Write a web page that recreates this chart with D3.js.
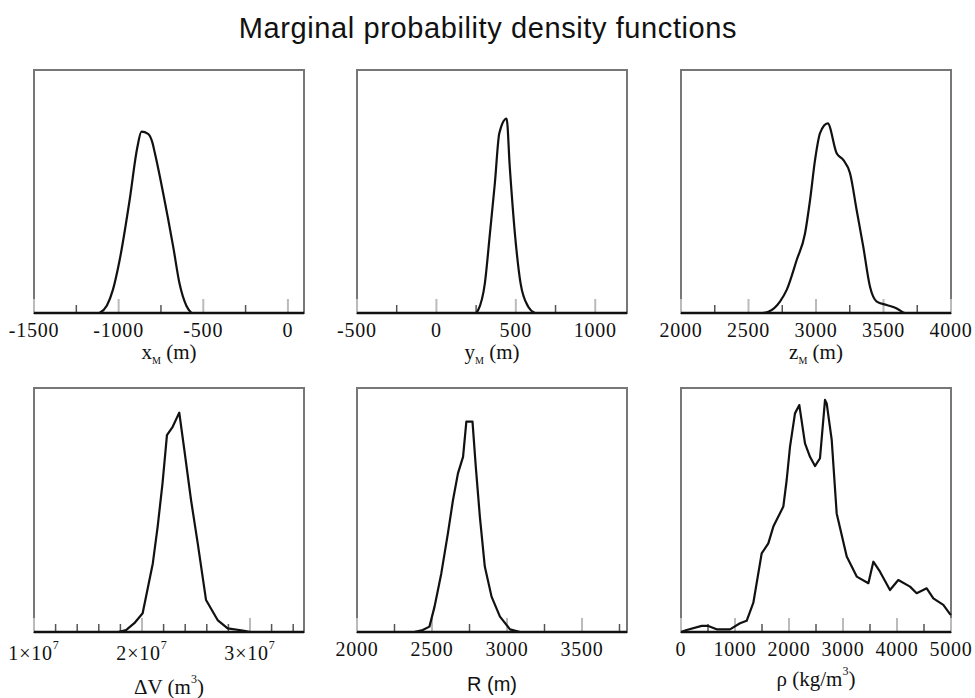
<!DOCTYPE html>
<html lang="en">
<head>
  <meta charset="UTF-8">
  <title>Marginal probability density functions</title>
  <style>
    body { margin: 0; background: #fff; }
    .tick-label { font-family: "Liberation Serif", "Times New Roman", serif; font-size: 20px; letter-spacing: 0.8px; fill: #111; }
    .axis-title { font-family: "Liberation Serif", "Times New Roman", serif; font-size: 21px; fill: #111; }
    .axis-title.sans { font-family: "Liberation Sans", Arial, sans-serif; font-size: 20px; }
    .title { font-family: "Liberation Sans", Arial, sans-serif; font-size: 29px; letter-spacing: 0.6px; fill: #111; }
  </style>
  <script src="https://d3js.org/d3.v7.min.js"></script>
</head>
<body>
  <svg id="chart"></svg>
  <script>
    // densities are relative (fraction of panel height), the y axis carries no scale
    const xmValues = [-1113, -1070, -1034, -994, -935, -890, -865, -826, -800, -786, -736, -677, -640, -600, -570];
    const xmDensity = [0, 0.03, 0.095, 0.218, 0.465, 0.68, 0.746, 0.737, 0.70, 0.658, 0.49, 0.27, 0.12, 0.03, 0];

    const ymValues = [250, 263, 305, 337, 368, 396, 442, 462, 494, 530, 578, 620];
    const ymDensity = [0, 0.012, 0.122, 0.328, 0.534, 0.74, 0.80, 0.60, 0.328, 0.122, 0.026, 0];

    const zmValues = [2600, 2647, 2733, 2783, 2857, 2919, 2956, 2993, 3030, 3087, 3153, 3202, 3252, 3301, 3350, 3400, 3450, 3524, 3598, 3659, 3700];
    const zmDensity = [0, 0.005, 0.047, 0.095, 0.218, 0.328, 0.465, 0.63, 0.74, 0.78, 0.657, 0.63, 0.575, 0.424, 0.273, 0.108, 0.047, 0.033, 0.019, 0, 0];

    const dvValues = [1.78e7, 1.852e7, 1.929e7, 2.006e7, 2.10e7, 2.145e7, 2.19e7, 2.231e7, 2.284e7, 2.345e7, 2.392e7, 2.454e7, 2.516e7, 2.593e7, 2.70e7, 2.793e7, 2.947e7, 3.0e7];
    const dvDensity = [0, 0.008, 0.036, 0.077, 0.281, 0.432, 0.609, 0.807, 0.841, 0.899, 0.746, 0.541, 0.363, 0.131, 0.049, 0.015, 0.005, 0];

    const rValues = [2380, 2438, 2483, 2517, 2562, 2606, 2640, 2673, 2707, 2729, 2770, 2792, 2819, 2852, 2897, 2953, 3020, 3087];
    const rDensity = [0, 0.008, 0.022, 0.104, 0.24, 0.404, 0.541, 0.65, 0.718, 0.862, 0.862, 0.677, 0.473, 0.268, 0.145, 0.063, 0.011, 0];

    const rhoValues = [0, 105, 383, 506, 660, 907, 1093, 1216, 1340, 1494, 1617, 1710, 1895, 1957, 2019, 2111, 2191, 2296, 2389, 2481, 2574, 2667, 2698, 2791, 2883, 3069, 3254, 3470, 3562, 3685, 3870, 4024, 4241, 4364, 4550, 4673, 4858, 4969, 5000];
    const rhoDensity = [0, 0.008, 0.025, 0.025, 0.011, 0.011, 0.036, 0.046, 0.12, 0.322, 0.363, 0.432, 0.514, 0.623, 0.76, 0.896, 0.93, 0.773, 0.718, 0.68, 0.712, 0.951, 0.937, 0.787, 0.486, 0.309, 0.227, 0.2, 0.288, 0.247, 0.172, 0.213, 0.186, 0.159, 0.179, 0.138, 0.111, 0.077, 0.07];

    // tick labels
    const xmTicks = [-1500, -1000, -500, 0];
    const ymTicks = [-500, 0, 500, 1000];
    const zmTicks = [2000, 2500, 3000, 3500, 4000];
    const dvTicks = [1e7, 2e7, 3e7];
    const rTicks = [2000, 2500, 3000, 3500];
    const rhoTicks = [0, 1000, 2000, 3000, 4000, 5000];

    const W = 975, H = 698;
    const svg = d3.select("#chart").attr("width", W).attr("height", H);

    svg.append("text")
      .attr("class", "title")
      .attr("x", 488)
      .attr("y", 38)
      .attr("text-anchor", "middle")
      .text("Marginal probability density functions");

    const panels = [
      { x0: 34, y0: 70, h: 243, xs: xmValues, ys: xmDensity, domain: [-1500, 95], ticks: xmTicks, step: 250, major: 500, name: "x", sub: "M", unit: " (m)", smooth: true },
      { x0: 357, y0: 70, h: 243, xs: ymValues, ys: ymDensity, domain: [-500, 1200], ticks: ymTicks, step: 250, major: 500, name: "y", sub: "M", unit: " (m)", smooth: true },
      { x0: 681, y0: 70, h: 243, xs: zmValues, ys: zmDensity, domain: [2000, 4000], ticks: zmTicks, step: 250, major: 500, name: "z", sub: "M", unit: " (m)", smooth: true },
      { x0: 34, y0: 388, h: 244, xs: dvValues, ys: dvDensity, domain: [1e7, 3.5e7], ticks: dvTicks, step: 2e6, major: 1e7, name: "\u0394V", unit: " (m", sup: "3", sci: true, titleY: 694 },
      { x0: 357, y0: 388, h: 244, xs: rValues, ys: rDensity, domain: [2000, 3800], ticks: rTicks, step: 250, major: 500, name: "R", unit: " (m)", sans: true, titleY: 691 },
      { x0: 681, y0: 388, h: 244, xs: rhoValues, ys: rhoDensity, domain: [0, 5000], ticks: rhoTicks, step: 500, major: 1000, name: "\u03c1", unit: " (kg/m", sup: "3", titleY: 686 }
    ];
    const pw = 270;

    panels.forEach(p => {
      const g = svg.append("g").attr("transform", `translate(${p.x0},${p.y0})`);
      const x = d3.scaleLinear().domain(p.domain).range([0, pw]);
      const y = d3.scaleLinear().domain([0, 1]).range([p.h, 0]);
      const isMajor = d => Math.abs(d / p.major - Math.round(d / p.major)) < 1e-6;

      // frame
      g.append("rect")
        .attr("width", pw).attr("height", p.h)
        .attr("fill", "none").attr("stroke", "#777").attr("stroke-width", 2);

      // inward ticks: long light ones at labels, short dark ones between
      const n0 = Math.ceil(p.domain[0] / p.step), n1 = Math.floor(p.domain[1] / p.step);
      const tickVals = d3.range(n0, n1 + 1).map(i => i * p.step);
      g.selectAll(".tk").data(tickVals).enter().append("line")
        .attr("x1", d => x(d)).attr("x2", d => x(d))
        .attr("y1", p.h)
        .attr("y2", d => p.h - (isMajor(d) ? 14 : 8))
        .attr("stroke", d => isMajor(d) ? "#bbb" : "#555")
        .attr("stroke-width", d => isMajor(d) ? 2 : 1.5);

      // baseline
      g.append("line")
        .attr("x1", 0).attr("x2", pw).attr("y1", p.h).attr("y2", p.h)
        .attr("stroke", "#111").attr("stroke-width", 2.5);

      // density curve
      const line = d3.line().x(d => x(d[0])).y(d => y(d[1]))
        .curve(p.smooth ? d3.curveMonotoneX : d3.curveLinear);
      g.append("path")
        .datum(p.xs.map((v, i) => [v, p.ys[i]]))
        .attr("d", line)
        .attr("fill", "none").attr("stroke", "#111").attr("stroke-width", 2.2)
        .attr("stroke-linejoin", "round");

      // tick labels
      const lab = g.selectAll(".tl").data(p.ticks).enter().append("text")
        .attr("class", "tick-label")
        .attr("x", d => x(d))
        .attr("y", p.h + (p.sci ? 28 : 24))
        .attr("text-anchor", "middle");
      if (p.sci) {
        lab.append("tspan").text(d => `${d / 1e7}\u00d710`);
        lab.append("tspan").attr("dy", -11).attr("font-size", 12).text("7");
      } else {
        lab.text(d => d);
      }

      // axis title
      const t = svg.append("text")
        .attr("class", "axis-title" + (p.sans ? " sans" : ""))
        .attr("x", p.x0 + pw / 2)
        .attr("y", p.titleY || 359)
        .attr("text-anchor", "middle");
      t.append("tspan").text(p.name);
      if (p.sub) {
        t.append("tspan").attr("dy", 5).attr("font-size", 10).text(p.sub);
        t.append("tspan").attr("dy", -5).text(p.unit);
      } else if (p.sup) {
        t.append("tspan").text(p.unit);
        t.append("tspan").attr("dy", -11).attr("font-size", 12).text(p.sup);
        t.append("tspan").attr("dy", 11).text(")");
      } else {
        t.append("tspan").text(p.unit);
      }
    });
  </script>
</body>
</html>
